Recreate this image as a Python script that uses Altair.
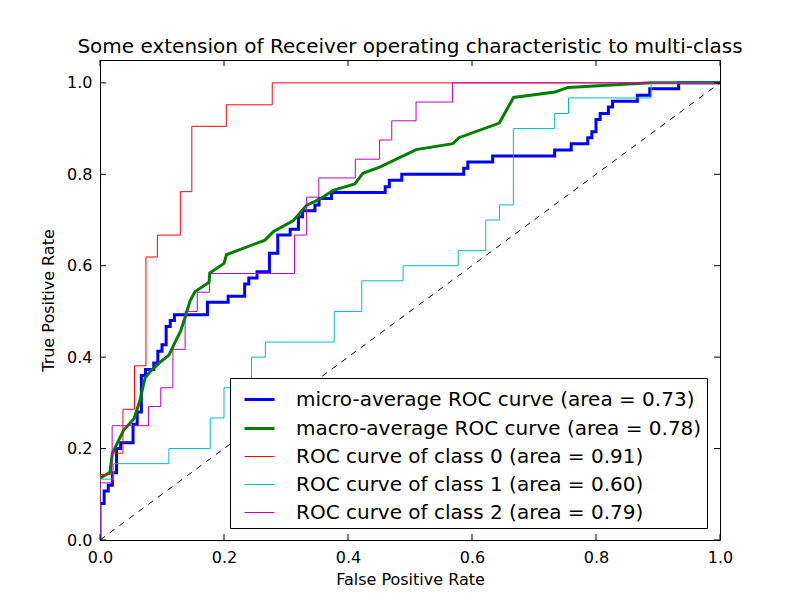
import altair as alt
import pandas as pd

# Legend labels, one per curve
names = [
    "micro-average ROC curve (area = 0.73)",
    "macro-average ROC curve (area = 0.78)",
    "ROC curve of class 0 (area = 0.91)",
    "ROC curve of class 1 (area = 0.60)",
    "ROC curve of class 2 (area = 0.79)",
]
colors = ["#0000ff", "#008000", "#ff0000", "#00bfbf", "#bf00bf"]
widths = [3, 3, 1, 1, 1]

# micro-average curve (corner points)
fpr_micro = [0, 0, 0.0067, 0.0067, 0.0133, 0.0133, 0.02, 0.02, 0.0267, 0.0267, 0.0333, 0.0333,
             0.0533, 0.0533, 0.06, 0.06, 0.0667, 0.0667, 0.0733, 0.0733, 0.0867, 0.0867, 0.0933, 0.0933,
             0.1, 0.1, 0.1067, 0.1067, 0.1133, 0.1133, 0.12, 0.12, 0.1733, 0.1733, 0.2067, 0.2067,
             0.2333, 0.2333, 0.24, 0.24, 0.2533, 0.2533, 0.2733, 0.2733, 0.2867, 0.2867, 0.3067, 0.3067,
             0.32, 0.32, 0.3267, 0.3267, 0.3467, 0.3467, 0.3533, 0.3533, 0.3733, 0.3733, 0.46, 0.46,
             0.4667, 0.4667, 0.4867, 0.4867, 0.5867, 0.5867, 0.5933, 0.5933, 0.6333, 0.6333, 0.7333, 0.7333,
             0.76, 0.76, 0.7867, 0.7867, 0.7933, 0.7933, 0.8, 0.8, 0.8067, 0.8067, 0.82, 0.82,
             0.8267, 0.8267, 0.8667, 0.8667, 0.8867, 0.8867, 0.9333, 0.9333, 1.0]
tpr_micro = [0, 0.08, 0.08, 0.107, 0.107, 0.12, 0.12, 0.147, 0.147, 0.2, 0.2, 0.213,
             0.213, 0.253, 0.253, 0.28, 0.28, 0.36, 0.36, 0.373, 0.373, 0.387, 0.387, 0.413,
             0.413, 0.427, 0.427, 0.467, 0.467, 0.48, 0.48, 0.493, 0.493, 0.52, 0.52, 0.533,
             0.533, 0.56, 0.56, 0.573, 0.573, 0.587, 0.587, 0.627, 0.627, 0.667, 0.667, 0.68,
             0.68, 0.707, 0.707, 0.72, 0.72, 0.733, 0.733, 0.747, 0.747, 0.76, 0.76, 0.773,
             0.773, 0.787, 0.787, 0.8, 0.8, 0.813, 0.813, 0.827, 0.827, 0.84, 0.84, 0.853,
             0.853, 0.867, 0.867, 0.88, 0.88, 0.893, 0.893, 0.92, 0.92, 0.933, 0.933, 0.947,
             0.947, 0.96, 0.96, 0.973, 0.973, 0.987, 0.987, 1.0, 1.0]

# macro-average curve
fpr_macro = [0, 0.016, 0.02, 0.038, 0.055, 0.0645, 0.0726, 0.08, 0.097, 0.111, 0.119, 0.13,
             0.138, 0.145, 0.153, 0.176, 0.177, 0.2, 0.204, 0.266, 0.28, 0.312, 0.333, 0.355,
             0.376, 0.411, 0.424, 0.452, 0.51, 0.569, 0.579, 0.644, 0.667, 0.734, 0.755, 0.889, 1.0]
tpr_macro = [0.135, 0.148, 0.19, 0.24, 0.266, 0.306, 0.354, 0.367, 0.389, 0.404, 0.427, 0.457,
             0.49, 0.522, 0.543, 0.564, 0.584, 0.605, 0.624, 0.656, 0.675, 0.699, 0.732, 0.746,
             0.765, 0.779, 0.802, 0.816, 0.854, 0.867, 0.88, 0.912, 0.968, 0.98, 0.99, 1.0, 1.0]

# class 0
fpr_c0 = [0, 0, 0.0185, 0.0185, 0.037, 0.037, 0.0556, 0.0556, 0.0741, 0.0741, 0.0926, 0.0926,
          0.1296, 0.1296, 0.1481, 0.1481, 0.2037, 0.2037, 0.2778, 0.2778, 1.0]
tpr_c0 = [0, 0.143, 0.143, 0.19, 0.19, 0.286, 0.286, 0.381, 0.381, 0.619, 0.619, 0.667,
          0.667, 0.762, 0.762, 0.905, 0.905, 0.952, 0.952, 1.0, 1.0]

# class 1
fpr_c1 = [0, 0, 0.0222, 0.0222, 0.1111, 0.1111, 0.1778, 0.1778, 0.2, 0.2, 0.2444, 0.2444,
          0.2667, 0.2667, 0.3778, 0.3778, 0.4222, 0.4222, 0.4889, 0.4889, 0.5778, 0.5778,
          0.6222, 0.6222, 0.6444, 0.6444, 0.6667, 0.6667, 0.7333, 0.7333, 0.7556, 0.7556,
          0.8889, 0.8889, 1.0]
tpr_c1 = [0, 0.133, 0.133, 0.167, 0.167, 0.2, 0.2, 0.267, 0.267, 0.333, 0.333, 0.4,
          0.4, 0.433, 0.433, 0.5, 0.5, 0.567, 0.567, 0.6, 0.6, 0.633,
          0.633, 0.7, 0.7, 0.733, 0.733, 0.9, 0.9, 0.933, 0.933, 0.967,
          0.967, 1.0, 1.0]

# class 2
fpr_c2 = [0, 0, 0.0196, 0.0196, 0.0784, 0.0784, 0.098, 0.098, 0.1176, 0.1176, 0.1373, 0.1373,
          0.1569, 0.1569, 0.1765, 0.1765, 0.3137, 0.3137, 0.3333, 0.3333, 0.3529, 0.3529,
          0.4118, 0.4118, 0.451, 0.451, 0.4706, 0.4706, 0.5098, 0.5098, 0.5686, 0.5686, 1.0]
tpr_c2 = [0, 0.125, 0.125, 0.25, 0.25, 0.292, 0.292, 0.333, 0.333, 0.417, 0.417, 0.5,
          0.5, 0.542, 0.542, 0.583, 0.583, 0.667, 0.667, 0.75, 0.75, 0.792,
          0.792, 0.833, 0.833, 0.875, 0.875, 0.917, 0.917, 0.958, 0.958, 1.0, 1.0]

# chance line
diag_x = [0.0, 1.0]
diag_y = [0.0, 1.0]

tick_values = [0.0, 0.2, 0.4, 0.6, 0.8, 1.0]

curves = [
    (fpr_micro, tpr_micro),
    (fpr_macro, tpr_macro),
    (fpr_c0, tpr_c0),
    (fpr_c1, tpr_c1),
    (fpr_c2, tpr_c2),
]
rows = []
for name, (fx, ty) in zip(names, curves):
    for i, (a, b) in enumerate(zip(fx, ty)):
        rows.append({"series": name, "fpr": a, "tpr": b, "idx": i})
df = pd.DataFrame(rows)

W, H = 620, 480
FONT = "DejaVu Sans"

x_scale = alt.Scale(domain=[0, 1], nice=False, zero=False)
y_scale = alt.Scale(domain=[0, 1.05], nice=False, zero=False)

legend = alt.Legend(
    title=None, orient="none", legendX=130, legendY=318,
    symbolType="stroke", symbolSize=900, symbolOffset=8, labelFont=FONT, labelFontSize=20,
    labelColor="black", labelOffset=20, rowPadding=2, padding=5,
    strokeColor="black", fillColor="white", cornerRadius=0, labelLimit=600,
)

x_axis = alt.Axis(values=tick_values, format=".1f", tickSize=0, labelPadding=9,
                  labelFlush=False, labelOverlap=False,
                  domain=False, grid=False, labelFont=FONT, labelFontSize=16,
                  labelColor="black", title="False Positive Rate", titleFont=FONT,
                  titleFontSize=16, titleFontWeight="normal", titleColor="black",
                  titlePadding=6)
y_axis = alt.Axis(values=tick_values, format=".1f", tickSize=0, labelPadding=8,
                  labelFlush=False, labelOverlap=False,
                  domain=False, grid=False, labelFont=FONT, labelFontSize=16,
                  labelColor="black", title="True Positive Rate", titleFont=FONT,
                  titleFontSize=16, titleFontWeight="normal", titleColor="black",
                  titlePadding=10)

X = alt.X("fpr:Q", scale=x_scale, axis=x_axis)
Y = alt.Y("tpr:Q", scale=y_scale, axis=y_axis)

layers = []
for name in names:
    layers.append(
        alt.Chart(df).transform_filter(alt.datum.series == name)
        .mark_line(clip=True, strokeCap="butt", strokeJoin="miter")
        .encode(
            x=X, y=Y,
            color=alt.Color("series:N", scale=alt.Scale(domain=names, range=colors), legend=legend),
            strokeWidth=alt.StrokeWidth("series:N",
                                        scale=alt.Scale(type="ordinal", domain=names, range=widths),
                                        legend=legend),
            order=alt.Order("idx:Q"),
        )
    )

diag = alt.Chart(pd.DataFrame({"fpr": diag_x, "tpr": diag_y})).mark_line(
    color="black", strokeWidth=1, strokeDash=[6, 6]
).encode(x=X, y=Y)

ticks = pd.DataFrame({"v": tick_values})
TL = 6
XT = alt.X("v:Q", scale=x_scale, axis=x_axis)
YT = alt.Y("v:Q", scale=y_scale, axis=y_axis)
tick_bottom = alt.Chart(ticks).mark_rule(color="black", strokeWidth=1).encode(
    x=XT, y=alt.value(H), y2=alt.value(H - TL))
tick_top = alt.Chart(ticks).mark_rule(color="black", strokeWidth=1).encode(
    x=XT, y=alt.value(0), y2=alt.value(TL))
tick_left = alt.Chart(ticks).mark_rule(color="black", strokeWidth=1).encode(
    y=YT, x=alt.value(0), x2=alt.value(TL))
tick_right = alt.Chart(ticks).mark_rule(color="black", strokeWidth=1).encode(
    y=YT, x=alt.value(W), x2=alt.value(W - TL))

chart = alt.layer(*layers, diag, tick_bottom, tick_top, tick_left, tick_right).properties(
    width=W, height=H,
    title=alt.TitleParams(
        "Some extension of Receiver operating characteristic to multi-class",
        font=FONT, fontSize=20, fontWeight="normal", color="black", anchor="middle", offset=3,
    ),
    autosize=alt.AutoSizeParams(type="none"),
    padding={"left": 100, "top": 60, "right": 80, "bottom": 60},
    background="white",
).configure_view(stroke="black", strokeWidth=1)

chart.save("out.html", embed_options={"renderer": "svg", "actions": False})
